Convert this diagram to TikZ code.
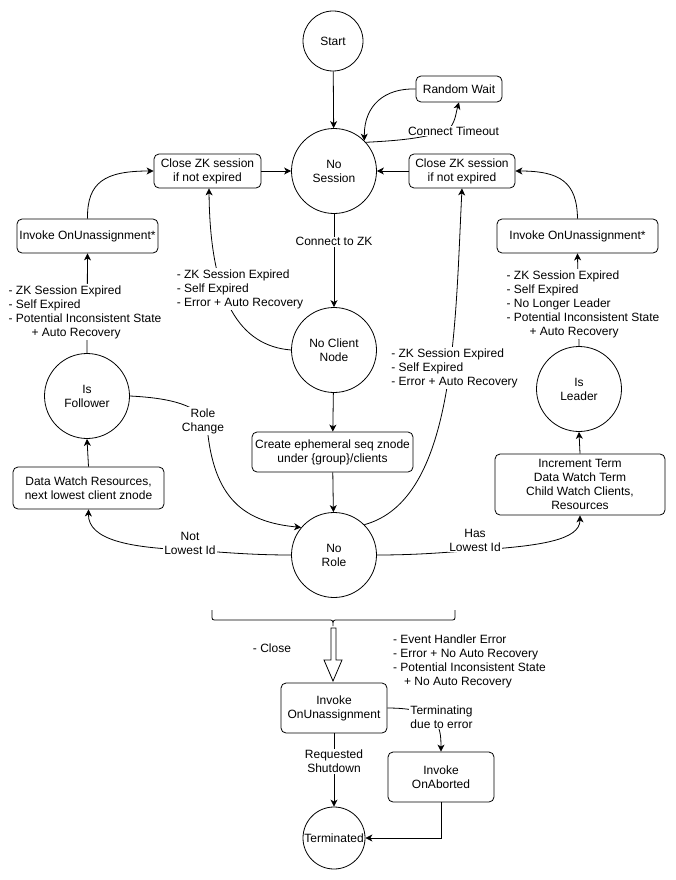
\documentclass[tikz,border=0pt]{standalone}
\usepackage{fontspec}
\setmainfont{Liberation Sans}
\usetikzlibrary{arrows.meta}
\begin{document}
\begin{tikzpicture}[x=1pt,y=-1pt,
  font=\fontsize{12}{14}\selectfont,
  line width=0.8pt,
  every node/.style={inner sep=0pt},
  arr/.style={-{Stealth[length=7pt,width=7pt,inset=2pt]}},
  circ/.style={circle, draw, align=center, minimum size=#1},
  circ/.default=85,
  box/.style={draw, rounded corners=5pt, align=center, minimum width=#1},
  lbl/.style={fill=white, align=center, inner sep=1pt},
  lbll/.style={fill=white, align=left, inner sep=1pt}
]
\useasboundingbox (0,0) rectangle (676,880);
% states
\node[circ=60] (start) at (333,41) {Start};
\node[circ] (nosess) at (334,171) {No\\Session};
\node[circ] (ncn) at (334,350) {No Client\\Node};
\node[circ] (norole) at (334,555) {No\\Role};
\node[circ] (fol) at (87,396) {Is\\Follower};
\node[circ] (leader) at (579,389) {Is\\Leader};
\node[circ=62] (term) at (334,838) {Terminated};
% boxes
\node[box=86, minimum height=26] (rw) at (459,89) {Random Wait};
\node[box=107, minimum height=34] (czl) at (207.5,171) {Close ZK session\\if not expired};
\node[box=106, minimum height=34] (czr) at (462,171) {Close ZK session\\if not expired};
\node[box=141, minimum height=34] (iul) at (87.5,236) {Invoke OnUnassignment*};
\node[box=161, minimum height=34] (iur) at (577.5,236) {Invoke OnUnassignment*};
\node[box=161, minimum height=40] (create) at (332.5,452) {Create ephemeral seq znode\\under \{group\}/clients};
\node[box=151, minimum height=42] (dw) at (88.5,488) {Data Watch Resources,\\next lowest client znode};
\node[box=170, minimum height=61] (inc) at (580,484.5) {Increment Term\\Data Watch Term\\Child Watch Clients,\\Resources};
\node[box=106, minimum height=50] (iu) at (334,708) {Invoke\\OnUnassignment};
\node[box=106, minimum height=50] (abort) at (441,777) {Invoke\\OnAborted};

% edges top
\draw[arr] (start) -- (nosess);
\draw[arr] (rw.west) .. controls (385,88) and (364,105) .. (nosess.45);
\draw[arr] (nosess.42) .. controls (390,141) and (430,139) .. (450,128) .. controls (456,120) and (456,112) .. (rw.south);
\node[lbl] (ct) at (453.5,131) {Connect Timeout};
\draw[arr] (czl.east) -- (nosess.west |- czl.east);
\draw[arr] (czr.west) -- (nosess.east |- czr.west);
\draw[arr] (iul.north) .. controls (87,182) and (105,171) .. (czl.west);
\draw[arr] (iur.north) .. controls (577,182) and (560,171) .. (czr.east);

% follower side
\draw[arr] (fol.north) -- (iul.south);
\node[lbll] (lf) at (85,312) {- ZK Session Expired\\- Self Expired\\- Potential Inconsistent State\\\hspace*{23pt}+ Auto Recovery};
\draw[arr] (dw.north) -- (fol.south);

% leader side
\draw[arr] (leader.north) -- (iur.south);
\node[lbll] (ll) at (583,304) {- ZK Session Expired\\- Self Expired\\- No Longer Leader\\- Potential Inconsistent State\\\hspace*{23pt}+ Auto Recovery};
\draw[arr] (inc.north) -- (leader.south);

% centre column
\draw[arr] (nosess) -- (ncn) node[lbl, pos=0.3] {Connect to ZK};
\draw[arr] (ncn) -- (create);
\draw[arr] (create) -- (norole);

% no client node back to close zk
\draw[arr] (ncn.west) .. controls (240,346) and (210,300) .. (czl.south -| 209,0);
\node[lbll] (lnc) at (240,289) {- ZK Session Expired\\- Self Expired\\- Error + Auto Recovery};

% no role back to close zk right
\draw[arr] (norole.45) .. controls (455,500) and (455,330) .. (czr.south);
\node[lbll] (lnr) at (454.5,368) {- ZK Session Expired\\- Self Expired\\- Error + Auto Recovery};

% role change
\draw[arr] (fol.east) .. controls (170,398) and (200,405) .. (207,425) .. controls (213,500) and (245,522) .. (norole.140);
\node[lbl] (rc) at (203,421) {Role\\Change};

% not lowest id
\draw[arr] (norole.west) .. controls (250,555) and (220,552) .. (190,550) .. controls (130,548) and (88,540) .. (dw.south);
\node[lbl] (nl) at (190,543) {Not\\Lowest Id};

% has lowest id
\draw[arr] (norole.east) .. controls (420,555) and (450,552) .. (478,550) .. controls (540,546) and (580,540) .. (inc.south);
\node[lbl] (hl) at (475,540) {Has\\Lowest Id};

% brace
\draw (212,610) -- (212,615) .. controls (212,620) .. (217,620) -- (328,620) .. controls (333,620) .. (333,626) .. controls (333,620) .. (338,620) -- (450,620) .. controls (455,620) .. (455,615) -- (455,610);
% hollow arrow
\draw (331,628) -- (336,628) -- (336,660) -- (342,660) -- (333,681) -- (324,660) -- (331,660) -- cycle;
\node[align=left] (close) at (272,648) {- Close};
\node[align=left] (errs) at (469.5,661) {- Event Handler Error\\- Error + No Auto Recovery\\- Potential Inconsistent State\\\hspace*{11pt}+ No Auto Recovery};

% bottom
\draw[arr] (iu.south) -- (term.north) node[lbl, pos=0.38] {Requested\\Shutdown};
\draw[arr] (iu.east) .. controls (438,708) and (441,725) .. (abort.north);
\node[lbl] (te) at (441.5,717) {Terminating\\due to error};
\draw[arr] (abort.south) |- (term.east);
\end{tikzpicture}
\end{document}
